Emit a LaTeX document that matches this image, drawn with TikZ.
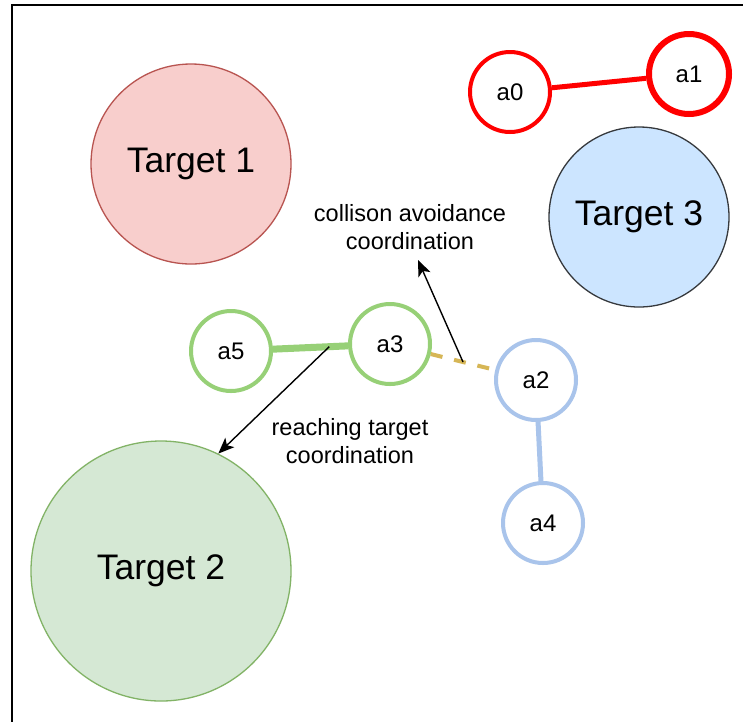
\documentclass[tikz,border=0pt]{standalone}
\usepackage{fontspec}
\setmainfont{Liberation Sans}
\usetikzlibrary{arrows.meta}
\definecolor{redA}{HTML}{FF0000}
\definecolor{greenA}{HTML}{97D077}
\definecolor{blueA}{HTML}{A9C4EB}
\definecolor{dashC}{HTML}{D6B656}
\definecolor{t1fill}{HTML}{F8CECC}
\definecolor{t1draw}{HTML}{B85450}
\definecolor{t3fill}{HTML}{CCE5FF}
\definecolor{t3draw}{HTML}{36393D}
\definecolor{t2fill}{HTML}{D5E8D4}
\definecolor{t2draw}{HTML}{82B366}
\tikzset{
  target/.style={circle, inner sep=0pt, line width=1.3pt, font=\fontsize{35.5}{42}\selectfont},
  agent/.style={circle, inner sep=0pt, minimum size=80pt, fill=white, line width=4pt, font=\fontsize{24}{29}\selectfont},
  lbl/.style={align=center, inner sep=0pt, font=\fontsize{23.5}{28}\selectfont},
  pointer/.style={-{Stealth[length=16pt,width=13pt,inset=4pt]}, line width=1.4pt, black},
}
\begin{document}
\begin{tikzpicture}[x=1pt,y=-1pt]
\useasboundingbox (0,0) rectangle (743,721);
\fill[white] (0,0) rectangle (743,721);
\draw[line width=2pt] (12,5) rectangle (800,780);

\node[target, minimum size=200pt, fill=t1fill, draw=t1draw] (t1) at (191,164) {Target 1};
\node[target, minimum size=180pt, fill=t3fill, draw=t3draw] (t3) at (639,217) {Target 3};
\node[target, minimum size=260pt, fill=t2fill, draw=t2draw] (t2) at (161,571) {Target 2};

\node[agent, draw=redA] (a0) at (510,92) {a0};
\node[agent, draw=redA, line width=6pt] (a1) at (689,74) {a1};
\node[agent, draw=greenA] (a5) at (231,351) {a5};
\node[agent, draw=greenA] (a3) at (390,344) {a3};
\node[agent, draw=blueA] (a2) at (536,380) {a2};
\node[agent, draw=blueA] (a4) at (543,523) {a4};

\draw[redA, line width=5pt] (a0) -- (a1);
\draw[greenA, line width=7pt] (a5) -- (a3) coordinate[pos=0.75] (m2);
\draw[dashC, line width=4pt, dash pattern=on 12pt off 12pt] (a3) -- (a2) coordinate[pos=0.5] (m1);
\draw[blueA, line width=5pt] (a2) -- (a4);

\node[lbl] (l1) at (410,227) {collison avoidance\\coordination};
\node[lbl] (l2) at (350,441) {reaching target\\coordination};

\coordinate (e1) at (418,260);
\draw[pointer] (m1) -- (e1);
\draw[pointer] (m2) -- (t2.64.8);
\end{tikzpicture}
\end{document}
